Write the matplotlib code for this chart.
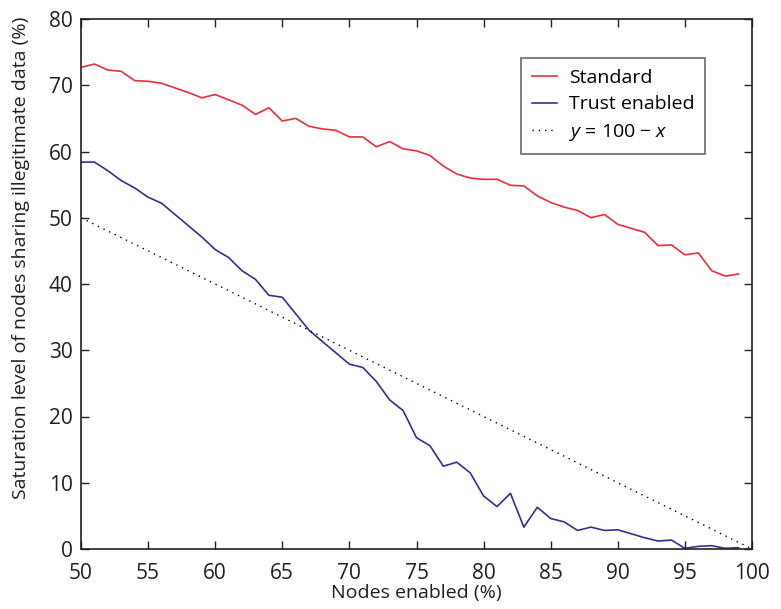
import matplotlib
matplotlib.use("Agg")
import matplotlib.pyplot as plt

plt.rcParams['font.family'] = ['Open Sans', 'DejaVu Sans']
plt.rcParams['mathtext.fontset'] = 'custom'
plt.rcParams['mathtext.it'] = 'Open Sans:italic'
plt.rcParams['mathtext.rm'] = 'Open Sans'

nodesEnabled = list(range(50, 100))

standard = [72.7, 73.2, 72.3, 72.1, 70.7, 70.6, 70.3, 69.6, 68.9, 68.1,
            68.6, 67.8, 67.0, 65.6, 66.6, 64.6, 65.0, 63.8, 63.4, 63.2,
            62.2, 62.2, 60.7, 61.5, 60.4, 60.1, 59.4, 57.8, 56.6, 56.0,
            55.8, 55.8, 54.9, 54.8, 53.3, 52.3, 51.6, 51.1, 50.0, 50.5,
            49.0, 48.4, 47.8, 45.8, 45.9, 44.4, 44.7, 42.0, 41.2, 41.5]

trustEnabled = [58.4, 58.4, 57.1, 55.6, 54.5, 53.1, 52.2, 50.5, 48.8, 47.1,
                45.2, 44.0, 42.0, 40.7, 38.3, 38.0, 35.5, 33.0, 31.3, 29.6,
                27.9, 27.4, 25.3, 22.5, 20.9, 16.8, 15.6, 12.5, 13.1, 11.5,
                8.0, 6.4, 8.4, 3.3, 6.3, 4.6, 4.1, 2.8, 3.3, 2.8,
                2.9, 2.3, 1.7, 1.2, 1.35, 0.1, 0.4, 0.5, 0.1, 0.2]

refX = [50, 100]
refY = [100 - x for x in refX]

ink = '#231f20'

fig = plt.figure(figsize=(7.81, 6.09), dpi=100)
ax = fig.add_axes([81/781, 1 - 549/609, (752 - 81)/781, (549 - 19)/609])

ax.plot(nodesEnabled, standard, color='#e8303a', lw=1.2, label='Standard')
ax.plot(nodesEnabled, trustEnabled, color='#2e3192', lw=1.2, label='Trust enabled')
ax.plot(refX, refY, color='black', lw=1.0, linestyle=(0, (1, 3.5)), label='$y$ = 100 − $x$')

ax.set_xlim(50, 100)
ax.set_ylim(0, 80)
ax.set_xticks(range(50, 101, 5))
ax.set_yticks(range(0, 81, 10))
ax.tick_params(direction='in', length=6, width=1, labelsize=15,
               top=True, right=True, colors=ink)
ax.tick_params(axis='x', pad=10)
ax.tick_params(axis='y', pad=6)
for s in ax.spines.values():
    s.set_linewidth(1.2)
    s.set_color(ink)

ax.set_xlabel('Nodes enabled (%)', fontsize=14, color=ink)
ax.xaxis.set_label_coords(0.5, (549 - 584)/530)
ax.set_ylabel('Saturation level of nodes sharing illegitimate data (%)', fontsize=14, color=ink)
ax.yaxis.set_label_coords((30 - 81)/671, (549 - 258)/530)

leg = ax.legend(loc='upper left', bbox_to_anchor=((521 - 81)/671, (549 - 58)/530),
                borderaxespad=0, fontsize=14, frameon=True, fancybox=False,
                handlelength=1.3, handletextpad=0.6, borderpad=0.55, labelspacing=0.45)
leg.get_frame().set_edgecolor('#444444')
leg.get_frame().set_linewidth(1.2)

fig.savefig('out.png', dpi=100)
